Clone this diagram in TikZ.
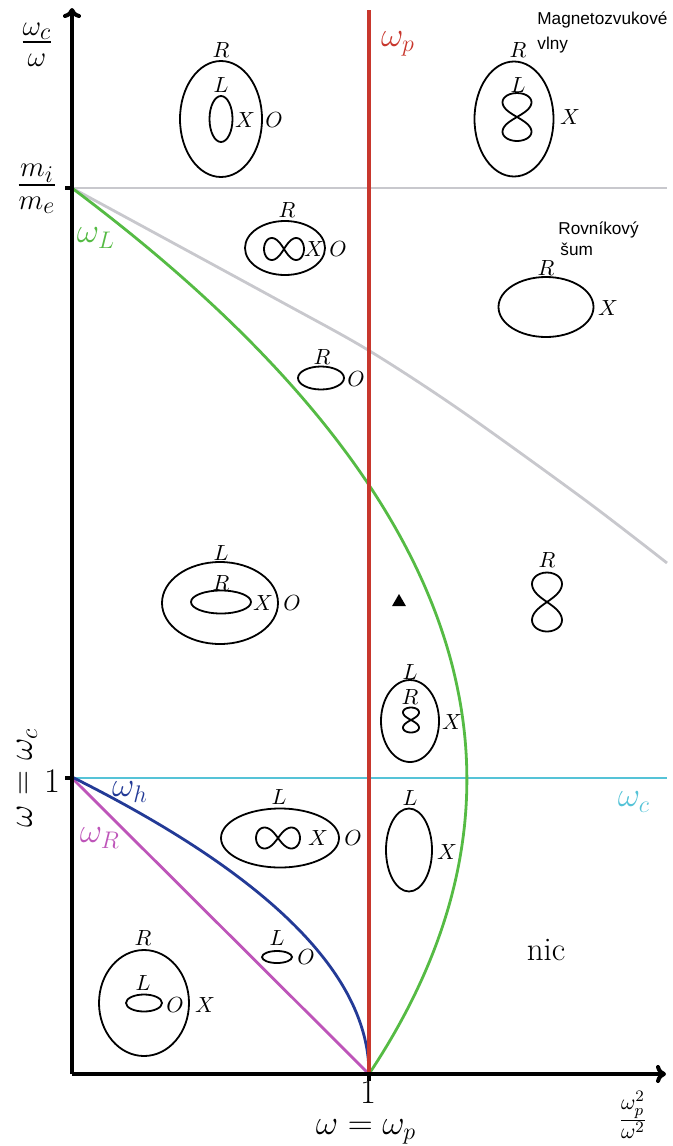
\documentclass[tikz,border=0pt]{standalone}
\usepackage{amsmath}
\usepackage{fontspec}
\newfontfamily\notefont{Liberation Sans}
\usetikzlibrary{arrows.meta,shapes.geometric}
\definecolor{cutP}{HTML}{C8372D}
\definecolor{cutL}{HTML}{55BB44}
\definecolor{cutR}{HTML}{BE55B9}
\definecolor{resH}{HTML}{233A96}
\definecolor{resC}{HTML}{55C3D7}
\definecolor{resI}{HTML}{C8C8CD}
% figure eights: centre x, centre y, half width, half height
\newcommand{\eightH}[4]{\draw[oval] plot[domain=0:360,samples=73,smooth,variable=\t]
  ({#1+#3*cos(\t)/(1+sin(\t)*sin(\t))},{#2+2.828*#4*sin(\t)*cos(\t)/(1+sin(\t)*sin(\t))});}
\newcommand{\eightV}[4]{\draw[oval] plot[domain=0:360,samples=73,smooth,variable=\t]
  ({#1+2.828*#3*sin(\t)*cos(\t)/(1+sin(\t)*sin(\t))},{#2+#4*cos(\t)/(1+sin(\t)*sin(\t))});}
\begin{document}
\begin{tikzpicture}[
  x=0.5pt,y=-0.5pt,
  axis/.style={line width=2pt,-{To[length=5pt,width=9pt]}},
  tick/.style={line width=2pt},
  curve/.style={line width=1.4pt},
  oval/.style={draw,line width=0.9pt},
  mode/.style={font=\fontsize{11}{13}\selectfont,inner sep=0pt},
  big/.style={font=\LARGE,inner sep=0pt},
  note/.style={font=\notefont\fontsize{8.6}{10}\selectfont,anchor=west,inner sep=0pt}
]
\useasboundingbox (0,0) rectangle (673,1146);
\coordinate (orig) at (72,1074);
\coordinate (ytop) at (72,8);
\coordinate (xend) at (666,1074);
\coordinate (one) at (72,778);
\coordinate (ratio) at (72,188);
\coordinate (pone) at (369,1074);
\coordinate (ptop) at (369,10);
\coordinate (cend) at (667,778);
\coordinate (rend) at (667,188);

% resonances and cutoffs
\draw[curve,resI] (ratio) -- (rend);
\draw[curve,resI] plot[smooth] coordinates {(72,188) (278,300) (368,350) (460,410) (585,500) (667,563)};
\draw[curve,resC] (one) -- (cend);
\draw[curve,cutR] (one) -- (pone);
\draw[curve,resH] plot[domain=0:1,samples=60,smooth,variable=\t] ({72+297*(1-\t*\t)},{1074-297*\t});
\draw[curve,cutL] plot[domain=0:2.983,samples=90,smooth,variable=\t] ({72+297*(1+\t)*(1-\t/2.983)},{1074-297*\t});
\draw[line width=2.4pt,cutP] (pone) -- (ptop);

\draw[axis] (orig) -- (ytop);
\draw[axis] (orig) -- (xend);
\draw[tick] (one) -- ++(-7,0);
\draw[tick] (ratio) -- ++(-7,0);
\draw[tick] (pone) -- ++(0,7);

\node[big] (yfrac) at (37,45) {\huge$\frac{\omega_c}{\omega}$};
\node[big] (mfrac) at (37,189) {\huge$\frac{m_i}{m_e}$};
\node[big] (yone) at (52,781) {$1$};
\node[big,rotate=90] (wwc) at (27,778) {$\omega = \omega_c$};
\node[big] (xone) at (368,1092) {$1$};
\node[big,anchor=base] (wwp) at (366,1134) {$\omega = \omega_p$};
\node[font=\fontsize{15.5}{18}\selectfont,inner sep=0pt] (xfrac) at (633,1115) {$\frac{\omega_p^2}{\omega^2}$};

\node[big,text=cutP] (lp) at (398,44) {$\omega_p$};
\node[big,text=cutL] (lL) at (96,238) {$\omega_L$};
\node[big,text=resH] (lh) at (130,792) {$\omega_h$};
\node[big,text=cutR] (lR) at (100,838) {$\omega_R$};
\node[big,text=resC] (lc) at (634,802) {$\omega_c$};

\node[note] (magn) at (537,20) {Magnetozvukové};
\node[note] (vlny) at (537,45) {vlny};
\node[note] (rovn) at (558,230) {Rovníkový};
\node[note] (sum) at (560,249) {šum};

% top left
\draw[oval] (221,119) ellipse [x radius=41,y radius=58];
\draw[oval] (221,119) ellipse [x radius=11.5,y radius=23];
\node[mode] (a1) at (221,50) {$R$};
\node[mode] (a2) at (221,85) {$L$};
\node[mode] (a3) at (245,120) {$X$};
\node[mode] (a4) at (274,120) {$O$};
% top right
\draw[oval] (514,119) ellipse [x radius=39.5,y radius=57.5];
\eightV{517}{117}{14.5}{24}
\node[mode] (b1) at (518,50) {$R$};
\node[mode] (b2) at (518,85) {$L$};
\node[mode] (b3) at (570,117) {$X$};
% below m_i/m_e
\draw[oval] (285,248) ellipse [x radius=40,y radius=27];
\eightH{284}{249}{20}{11}
\node[mode] (c1) at (287,210) {$R$};
\node[mode] (c2) at (314,249) {$X$};
\node[mode] (c3) at (338,249) {$O$};
\draw[oval] (321,378) ellipse [x radius=23,y radius=11.5];
\node[mode] (d1) at (322,357) {$R$};
\node[mode] (d2) at (356,379) {$O$};
\draw[oval] (546,307) ellipse [x radius=47.5,y radius=30];
\node[mode] (e1) at (546,268) {$R$};
\node[mode] (e2) at (608,308) {$X$};
% middle
\draw[oval] (220,603) ellipse [x radius=58,y radius=41];
\draw[oval] (221,602) ellipse [x radius=30,y radius=11.5];
\node[mode] (f1) at (221,553) {$L$};
\node[mode] (f2) at (221,583) {$R$};
\node[mode] (f3) at (263,603) {$X$};
\node[mode] (f4) at (292,603) {$O$};
\node[fill,regular polygon,regular polygon sides=3,inner sep=0pt,minimum size=8pt] (tri) at (399,602) {};
\eightV{547}{602}{15}{29.5}
\node[mode] (g1) at (547,560) {$R$};
\draw[oval] (410,721) ellipse [x radius=29,y radius=41];
\eightV{411}{720}{8}{12.5}
\node[mode] (h1) at (410,672) {$L$};
\node[mode] (h2) at (410,697) {$R$};
\node[mode] (h3) at (452,722) {$X$};
% below omega_c
\draw[oval] (280,838) ellipse [x radius=59,y radius=29.5];
\eightH{278}{838}{22}{10.5}
\node[mode] (i1) at (279,797) {$L$};
\node[mode] (i2) at (318,838) {$X$};
\node[mode] (i3) at (353,838) {$O$};
\draw[oval] (409,850) ellipse [x radius=23,y radius=41.5];
\node[mode] (j1) at (410,798) {$L$};
\node[mode] (j2) at (447,852) {$X$};
\draw[oval] (277,957) ellipse [x radius=15,y radius=6];
\node[mode] (k1) at (277,938) {$L$};
\node[mode] (k2) at (306,957) {$O$};
\draw[oval] (144,1003) ellipse [x radius=45,y radius=53];
\draw[oval] (144,1003) ellipse [x radius=18,y radius=8.5];
\node[mode] (m1) at (143,938) {$R$};
\node[mode] (m2) at (143,983) {$L$};
\node[mode] (m3) at (175,1005) {$O$};
\node[mode] (m4) at (205,1005) {$X$};
\node[font=\fontsize{16.5}{18}\selectfont,inner sep=0pt] (nic) at (546,950) {nic};
\end{tikzpicture}
\end{document}
